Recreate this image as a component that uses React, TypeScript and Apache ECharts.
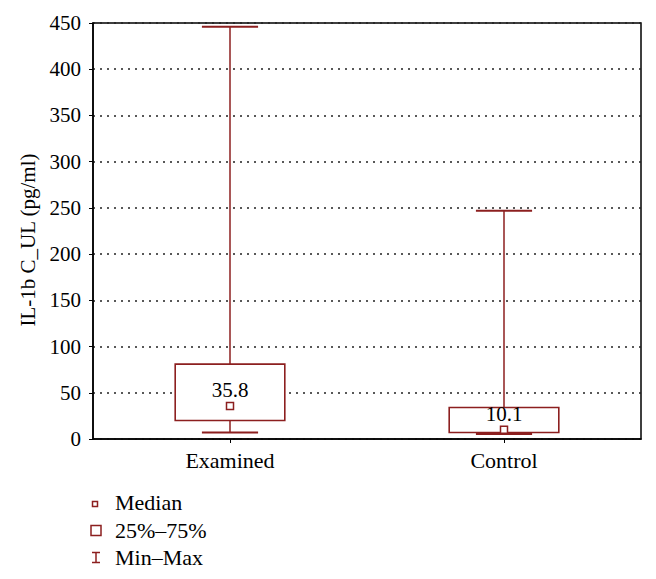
import React, { useEffect, useRef } from "react";
import * as echarts from "echarts";

const categories = ["Examined", "Control"];
const minValues = [7, 5.5];
const q1Values = [20, 7];
const medianValues = [35.8, 10.1];
const q3Values = [81, 34];
const maxValues = [446, 247];
const medianLabels = ["35.8", "10.1"];
const legendLabels = ["Median", "25%–75%", "Min–Max"];

const RED = "#8c1f1f";
const FONT = "Liberation Serif";

export default function App() {
  const ref = useRef<HTMLDivElement>(null);
  useEffect(() => {
    if (!ref.current) return;
    const chart = echarts.init(ref.current, null, { renderer: "svg" });
    const data = categories.map((_, i) => [
      i,
      minValues[i],
      q1Values[i],
      medianValues[i],
      q3Values[i],
      maxValues[i],
    ]);
    const option: any = {
      animation: false,
      backgroundColor: "#ffffff",
      textStyle: { fontFamily: FONT },
      grid: {
        left: 93,
        top: 23,
        right: 15,
        bottom: 140,
        show: true,
        borderColor: "#000",
        borderWidth: 1.5,
      },
      xAxis: {
        type: "category",
        data: categories,
        boundaryGap: true,
        axisLine: { lineStyle: { color: "#000", width: 1.5 } },
        axisTick: { show: true, alignWithLabel: true, length: 4, lineStyle: { color: "#000" } },
        axisLabel: { color: "#000", fontSize: 22, fontFamily: FONT, margin: 10 },
        splitLine: { show: false },
      },
      yAxis: {
        type: "value",
        min: 0,
        max: 450,
        interval: 50,
        name: "IL-1b C_UL (pg/ml)",
        nameLocation: "middle",
        nameGap: 54,
        nameTextStyle: { color: "#000", fontSize: 21, fontFamily: FONT, padding: [0, 18, 0, 0] },
        axisLine: { show: true, lineStyle: { color: "#000", width: 1.5 } },
        axisTick: { show: true, length: 4, lineStyle: { color: "#000" } },
        axisLabel: { color: "#000", fontSize: 21, fontFamily: FONT, margin: 12 },
        splitLine: {
          show: true,
          lineStyle: { color: "#222", width: 1.6, type: [2, 5] },
        },
      },
      series: [
        {
          type: "custom",
          data,
          encode: { x: 0, y: [1, 2, 3, 4, 5] },
          renderItem: (params: any, api: any) => {
            const idx = api.value(0);
            const vMin = api.value(1);
            const vQ1 = api.value(2);
            const vMed = api.value(3);
            const vQ3 = api.value(4);
            const vMax = api.value(5);
            const band = api.size([1, 0])[0];
            const boxW = band * 0.4;
            const capW = band * 0.205;
            const pMin = api.coord([idx, vMin]);
            const pQ1 = api.coord([idx, vQ1]);
            const pMed = api.coord([idx, vMed]);
            const pQ3 = api.coord([idx, vQ3]);
            const pMax = api.coord([idx, vMax]);
            const cx = pMed[0];
            const line = (x1: number, y1: number, x2: number, y2: number, w: number) => ({
              type: "line",
              shape: { x1, y1, x2, y2 },
              style: { stroke: RED, lineWidth: w },
            });
            return {
              type: "group",
              children: [
                line(cx, pMax[1], cx, pQ3[1], 1.5),
                line(cx, pQ1[1], cx, pMin[1], 1.5),
                line(cx - capW / 2, pMax[1], cx + capW / 2, pMax[1], 2),
                line(cx - capW / 2, pMin[1], cx + capW / 2, pMin[1], 2),
                {
                  type: "rect",
                  shape: {
                    x: cx - boxW / 2,
                    y: pQ3[1],
                    width: boxW,
                    height: pQ1[1] - pQ3[1],
                  },
                  style: { fill: "#fff", stroke: RED, lineWidth: 1.6 },
                },
                {
                  type: "rect",
                  shape: { x: cx - 3.5, y: pMed[1] - 3.5, width: 7, height: 7 },
                  style: { fill: "#fff", stroke: RED, lineWidth: 1.5 },
                },
                {
                  type: "text",
                  x: cx,
                  y: pMed[1] - 16,
                  style: {
                    text: medianLabels[params.dataIndex],
                    fill: "#000",
                    fontSize: 21,
                    fontFamily: FONT,
                    align: "center",
                    verticalAlign: "middle",
                  },
                },
              ],
            };
          },
        },
      ],
      graphic: [
        {
          type: "rect",
          shape: { x: 92.5, y: 501.5, width: 5, height: 5 },
          style: { fill: "#fff", stroke: RED, lineWidth: 1.5 },
        },
        {
          type: "rect",
          shape: { x: 91, y: 525.5, width: 10, height: 10 },
          style: { fill: "#fff", stroke: RED, lineWidth: 1.5 },
        },
        {
          type: "line",
          shape: { x1: 96, y1: 552.5, x2: 96, y2: 562.5 },
          style: { stroke: RED, lineWidth: 1.5 },
        },
        {
          type: "line",
          shape: { x1: 92, y1: 552.5, x2: 100, y2: 552.5 },
          style: { stroke: RED, lineWidth: 1.5 },
        },
        {
          type: "line",
          shape: { x1: 92, y1: 562.5, x2: 100, y2: 562.5 },
          style: { stroke: RED, lineWidth: 1.5 },
        },
        ...legendLabels.map((t, i) => ({
          type: "text",
          x: 115,
          y: [502, 530, 557][i],
          style: {
            text: t,
            fill: "#000",
            fontSize: 22,
            fontFamily: FONT,
            align: "left",
            verticalAlign: "middle",
          },
        })),
      ],
    };
    chart.setOption(option);
    return () => chart.dispose();
  }, []);
  return (
    <div
      ref={ref}
      style={{ position: "fixed", left: 0, top: 0, width: 656, height: 579 }}
    />
  );
}
